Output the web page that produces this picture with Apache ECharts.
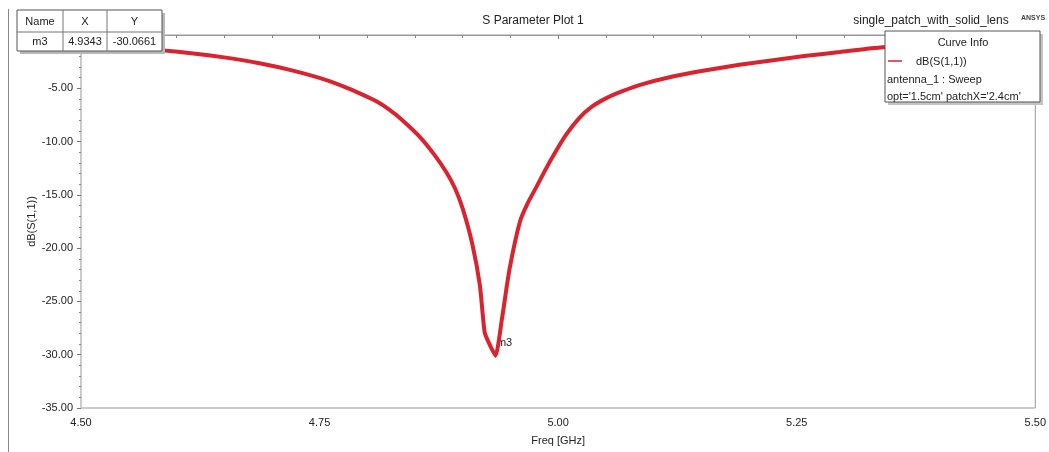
<!DOCTYPE html>
<html>
<head>
<meta charset="utf-8">
<script src="https://cdn.jsdelivr.net/npm/echarts@6/dist/echarts.min.js"></script>
<style>
html,body{margin:0;padding:0;background:#fff;}
#c{width:1049px;height:452px;}
</style>
</head>
<body>
<div id="c"></div>
<script>
// Data
var freqGHz = [4.50, 4.55, 4.583, 4.62, 4.65, 4.687, 4.72, 4.758, 4.78, 4.795, 4.81, 4.823, 4.835, 4.855, 4.870, 4.883, 4.892, 4.90, 4.91, 4.918, 4.923, 4.928, 4.9343, 4.941, 4.949, 4.96, 4.968, 4.977, 4.986, 4.995, 5.008, 5.022, 5.035, 5.051, 5.068, 5.085, 5.12, 5.155, 5.19, 5.225, 5.26, 5.295, 5.34, 5.40, 5.45, 5.50];
var dBS11 = [-0.95, -1.2, -1.42, -1.75, -2.1, -2.65, -3.3, -4.25, -5.0, -5.6, -6.25, -7.0, -7.85, -9.55, -11.2, -12.9, -14.4, -16.3, -19.6, -23.5, -27.9, -29.0, -30.0661, -26.7, -22.0, -17.5, -15.8, -14.3, -12.75, -11.3, -9.4, -7.8, -6.75, -5.9, -5.25, -4.7, -3.9, -3.3, -2.8, -2.36, -1.95, -1.6, -1.15, -0.95, -0.85, -0.75];
var marker = {name: 'm3', x: 4.9343, y: -30.0661};
var xTicks = {min: 4.5, max: 5.5, step: 0.25};
var yTicks = {min: -35, max: 0, step: 5};
var titleText = 'S Parameter Plot 1';
var projectText = 'single_patch_with_solid_lens';
var legendLines = ['dB(S(1,1))', 'antenna_1 : Sweep', "opt='1.5cm' patchX='2.4cm'"];

var FONT = '"Liberation Sans", Arial, sans-serif';
var RED = '#d9232e';
var chart = echarts.init(document.getElementById('c'));
var pts = freqGHz.map(function (f, i) { return [f, dBS11[i]]; });

var tableCols = [{x: 17, w: 46}, {x: 63, w: 44}, {x: 107, w: 55}];
var tableRows = [['Name', 'X', 'Y'], [marker.name, marker.x.toFixed(4), marker.y.toFixed(4)]];
var tableGraphics = [];
tableGraphics.push({type: 'rect', shape: {x: 20, y: 13, width: 145, height: 41}, style: {fill: '#b8b8b8'}, z: 100});
tableGraphics.push({type: 'rect', shape: {x: 17, y: 10, width: 145, height: 41}, style: {fill: '#fff', stroke: '#555', lineWidth: 1}, z: 101});
tableGraphics.push({type: 'line', shape: {x1: 17, y1: 32, x2: 162, y2: 32}, style: {stroke: '#777', lineWidth: 1}, z: 102});
tableGraphics.push({type: 'line', shape: {x1: 63, y1: 10, x2: 63, y2: 51}, style: {stroke: '#777', lineWidth: 1}, z: 102});
tableGraphics.push({type: 'line', shape: {x1: 107, y1: 10, x2: 107, y2: 51}, style: {stroke: '#777', lineWidth: 1}, z: 102});
tableRows.forEach(function (row, r) {
  row.forEach(function (t, c) {
    tableGraphics.push({type: 'text', x: tableCols[c].x + tableCols[c].w / 2, y: r === 0 ? 22 : 42, z: 103,
      style: {text: t, font: '11px ' + FONT, fill: '#222', textAlign: 'center', textVerticalAlign: 'middle'}});
  });
});

var legendGraphics = [
  {type: 'rect', shape: {x: 888, y: 34, width: 155, height: 71}, style: {fill: '#c4c4c4'}, z: 100},
  {type: 'rect', shape: {x: 885, y: 31, width: 155, height: 71}, style: {fill: '#fff', stroke: '#555', lineWidth: 1}, z: 101},
  {type: 'text', x: 963, y: 43, z: 103, style: {text: 'Curve Info', font: '11px ' + FONT, fill: '#222', textAlign: 'center', textVerticalAlign: 'middle'}},
  {type: 'line', shape: {x1: 888, y1: 61, x2: 902, y2: 61}, style: {stroke: RED, lineWidth: 1.5}, z: 103},
  {type: 'text', x: 916, y: 62, z: 103, style: {text: legendLines[0], font: '11px ' + FONT, fill: '#222', textAlign: 'left', textVerticalAlign: 'middle'}},
  {type: 'text', x: 887, y: 80, z: 103, style: {text: legendLines[1], font: '11px ' + FONT, fill: '#222', textAlign: 'left', textVerticalAlign: 'middle'}},
  {type: 'text', x: 887, y: 97, z: 103, style: {text: legendLines[2], font: '11px ' + FONT, fill: '#222', textAlign: 'left', textVerticalAlign: 'middle'}}
];

var otherGraphics = [
  {type: 'line', shape: {x1: 8.5, y1: 9, x2: 8.5, y2: 452}, style: {stroke: '#888', lineWidth: 1}, z: 50},
  {type: 'text', x: 533, y: 21, z: 60, style: {text: titleText, font: '12px ' + FONT, fill: '#222', textAlign: 'center', textVerticalAlign: 'middle'}},
  {type: 'text', x: 931, y: 21, z: 60, style: {text: projectText, font: '12px ' + FONT, fill: '#222', textAlign: 'center', textVerticalAlign: 'middle'}},
  {type: 'text', x: 1033, y: 18, z: 60, style: {text: 'ANSYS', font: 'bold 7px ' + FONT, fill: '#444', textAlign: 'center', textVerticalAlign: 'middle'}}
];

var fmt2 = function (v) { return v.toFixed(2); };

chart.setOption({
  animation: false,
  backgroundColor: '#fff',
  grid: {left: 81, right: 13, top: 35, bottom: 44, show: true, borderColor: '#999', borderWidth: 1, backgroundColor: 'transparent'},
  xAxis: {
    type: 'value', min: xTicks.min, max: xTicks.max, interval: xTicks.step,
    name: 'Freq [GHz]', nameLocation: 'middle', nameGap: 27,
    nameTextStyle: {fontFamily: FONT, fontSize: 11, color: '#222'},
    axisLine: {show: true, lineStyle: {color: '#999', width: 1}},
    axisTick: {show: true, length: 4, lineStyle: {color: '#777'}},
    minorTick: {show: true, splitNumber: 5, length: 3, lineStyle: {color: '#888'}},
    splitLine: {show: false},
    axisLabel: {formatter: fmt2, fontFamily: FONT, fontSize: 11, color: '#222', margin: 9}
  },
  yAxis: {
    type: 'value', min: yTicks.min, max: yTicks.max, interval: yTicks.step,
    name: 'dB(S(1,1))', nameLocation: 'middle', nameGap: 44, nameRotate: 90, nameMoveOverlap: false,
    nameTextStyle: {fontFamily: FONT, fontSize: 11, color: '#222'},
    axisLine: {show: true, lineStyle: {color: '#c8c8c8', width: 1}},
    axisTick: {show: true, length: 4, lineStyle: {color: '#777'}},
    minorTick: {show: true, splitNumber: 5, length: 2, lineStyle: {color: '#888'}},
    splitLine: {show: false},
    axisLabel: {formatter: fmt2, fontFamily: FONT, fontSize: 11, color: '#222', margin: 8}
  },
  series: [{
    type: 'line',
    data: pts,
    showSymbol: false,
    smooth: 0.2,
    lineStyle: {color: RED, width: 4},
    z: 10,
    markPoint: {
      symbol: 'triangle', symbolSize: 5, symbolRotate: 180,
      itemStyle: {color: '#333'},
      label: {show: true, formatter: marker.name, position: 'right', offset: [-6, -12], fontFamily: FONT, fontSize: 11, color: '#222'},
      data: [{coord: [marker.x, marker.y]}]
    }
  }],
  graphic: otherGraphics.concat(tableGraphics).concat(legendGraphics)
});
</script>
</body>
</html>
